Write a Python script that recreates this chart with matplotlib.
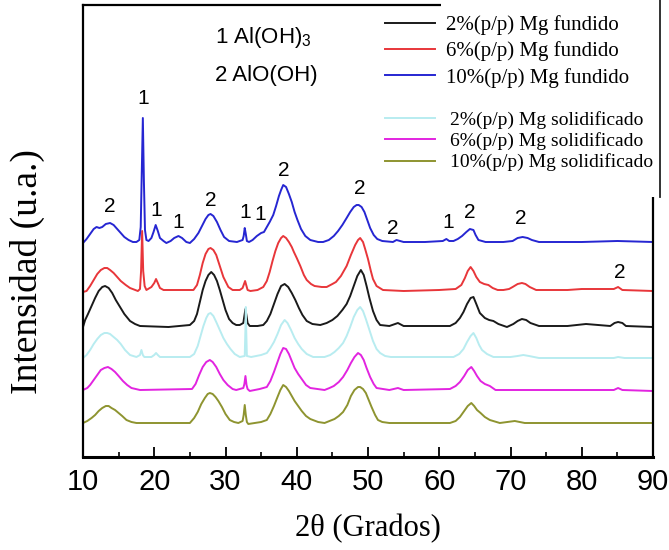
import matplotlib
matplotlib.use("Agg")
import matplotlib.pyplot as plt
from matplotlib.patches import Rectangle
from matplotlib.lines import Line2D

# ---------------- data ----------------
legend_labels = [
    "2%(p/p) Mg fundido",
    "6%(p/p) Mg fundido",
    "10%(p/p) Mg fundido",
    "2%(p/p) Mg solidificado",
    "6%(p/p) Mg solidificado",
    "10%(p/p) Mg solidificado",
]

# vertical stacking offset of each pattern (a.u.)
stack_offsets = [131, 166, 215, 99, 67, 34]

# (2theta, intensity above the pattern's own baseline)
pattern_black = [
    (10.0, -1), (10.3, 6), (10.7, 12), (11.2, 20), (11.7, 28), (12.2, 35), (12.7, 39), (13.1, 40),
    (13.6, 38), (14.1, 33), (14.6, 26), (15.2, 19), (15.8, 12), (16.6, 5), (17.3, 2), (18.0, 0),
    (22.0, -1), (25.0, 1), (25.6, 5), (26.0, 12), (26.4, 24), (26.8, 36), (27.2, 45), (27.6, 51),
    (28.0, 54), (28.4, 51), (28.8, 45), (29.2, 36), (29.6, 26), (30.0, 16), (30.5, 7), (31.0, 3),
    (31.5, 1), (32.0, 1), (32.5, 3), (32.8, 17), (33.1, 3), (33.4, 0), (34.5, 0), (35.3, 1),
    (35.8, 5), (36.3, 12), (36.8, 22), (37.3, 32), (37.8, 40), (38.3, 42), (38.8, 39), (39.3, 33),
    (39.8, 26), (40.3, 18), (40.8, 11), (41.4, 5), (42.2, 2), (43.3, 1), (44.2, 3), (45.0, 6),
    (45.7, 10), (46.4, 16), (47.0, 22), (47.5, 30), (48.0, 40), (48.5, 50), (49.0, 56), (49.4, 51),
    (49.8, 40), (50.2, 28), (50.7, 15), (51.2, 6), (51.7, 1), (53.0, 0), (54.2, 3), (55.0, 0),
    (61.5, 0), (62.3, 3), (62.9, 8), (63.4, 14), (63.9, 22), (64.4, 28), (64.8, 29), (65.2, 22),
    (65.7, 13), (66.4, 8), (67.0, 6), (67.6, 5), (68.3, 2), (69.5, -1), (70.4, 2), (71.0, 5),
    (71.6, 7), (72.2, 6), (72.8, 3), (74.0, 0), (78.0, 0), (80.6, 2), (84.0, 0), (84.6, 3),
    (85.1, 4), (85.7, 3), (86.2, 0), (90.0, -1),
]

pattern_red = [
    (10.0, -1), (10.5, 0), (11.0, 5), (11.5, 11), (12.0, 17), (12.5, 21), (13.0, 23), (13.4, 23),
    (13.8, 21), (14.3, 18), (14.8, 14), (15.3, 10), (16.0, 6), (16.6, 3), (17.7, 0), (18.0, 2),
    (18.15, 20), (18.3, 60), (18.45, 20), (18.65, 5), (18.9, 1), (19.6, 4), (20.0, 8), (20.25, 12),
    (20.5, 8), (20.8, 3), (21.3, 1), (25.5, 1), (26.0, 6), (26.4, 16), (26.8, 28), (27.2, 37),
    (27.6, 42), (27.9, 43), (28.3, 41), (28.7, 36), (29.2, 25), (29.7, 14), (30.4, 4), (31.0, 1),
    (32.0, 1), (32.4, 3), (32.75, 10), (33.1, 1), (33.5, 0), (34.5, 1), (35.3, 4), (35.8, 10),
    (36.2, 19), (36.6, 30), (37.0, 40), (37.4, 48), (37.8, 53), (38.1, 55), (38.5, 53), (38.9, 49),
    (39.3, 44), (39.6, 39), (40.0, 33), (40.5, 25), (41.0, 16), (41.4, 11), (42.0, 7), (42.5, 5),
    (43.5, 4), (44.2, 4), (45.0, 7), (45.5, 9), (46.2, 15), (47.0, 25), (47.6, 36), (48.2, 46),
    (48.6, 51), (48.9, 53), (49.3, 49), (49.6, 42), (50.0, 32), (50.4, 20), (50.7, 12), (51.2, 5),
    (52.1, 1), (55.0, 0), (60.0, 1), (62.3, 2), (63.1, 6), (63.6, 13), (64.0, 20), (64.4, 24),
    (64.8, 20), (65.2, 14), (65.7, 9), (66.3, 7), (66.9, 6), (67.5, 3), (68.2, 1), (69.0, 1),
    (69.8, 2), (70.3, 4), (71.0, 7), (71.6, 8), (72.1, 7), (72.7, 4), (73.6, 1), (78.0, 1),
    (80.0, 2), (84.5, 2), (85.1, 4), (85.7, 1), (90.0, 0),
]

pattern_blue = [
    (10.0, -1), (10.5, 3), (11.0, 8), (11.5, 13), (11.9, 15), (12.3, 14), (12.7, 15), (13.2, 18),
    (13.8, 19), (14.3, 17), (14.8, 13), (15.3, 9), (15.8, 5), (16.4, 2), (17.0, 0), (17.5, 0),
    (17.9, 2), (18.1, 15), (18.25, 70), (18.4, 124), (18.55, 60), (18.7, 12), (18.9, 2), (19.2, 1),
    (19.6, 4), (19.9, 10), (20.2, 17), (20.5, 11), (20.8, 4), (21.3, 1), (21.7, -1), (22.3, 1),
    (22.8, 4), (23.4, 6), (23.9, 4), (24.5, 0), (25.0, -1), (25.6, 3), (26.2, 9), (26.7, 16),
    (27.2, 23), (27.6, 27), (27.9, 28), (28.3, 26), (28.8, 20), (29.3, 12), (29.8, 5), (30.5, 1),
    (31.6, 0), (32.4, 2), (32.55, 6), (32.7, 14), (32.85, 8), (33.0, 1), (33.3, 0), (33.8, 2),
    (34.4, 6), (35.0, 9), (35.4, 10), (35.8, 15), (36.2, 20), (36.7, 27), (37.1, 36), (37.5, 46),
    (37.8, 52), (38.1, 57), (38.5, 55), (38.9, 48), (39.3, 40), (39.7, 30), (40.1, 22), (40.6, 13),
    (41.2, 6), (41.9, 2), (43.0, 0), (43.7, 0), (44.5, 2), (45.2, 6), (45.8, 11), (46.4, 17),
    (47.0, 24), (47.5, 30), (48.0, 35), (48.4, 37), (48.7, 37), (49.1, 35), (49.5, 30), (49.9, 22),
    (50.3, 14), (50.8, 7), (51.3, 3), (52.0, 1), (53.5, 0), (54.0, 2), (55.0, 0), (58.0, 0),
    (60.5, 1), (61.0, 3), (61.4, 1), (62.0, 1), (62.6, 3), (63.2, 6), (63.8, 10), (64.3, 13),
    (64.8, 12), (65.1, 7), (65.5, 2), (66.5, 0), (69.0, 0), (70.3, 1), (71.0, 4), (71.7, 5),
    (72.4, 4), (73.0, 2), (74.0, 0), (80.0, 0), (85.0, 1), (90.0, 0),
]

pattern_cyan = [
    (10.0, 0), (10.5, 3), (11.0, 8), (11.5, 14), (12.0, 19), (12.5, 23), (13.0, 25), (13.4, 25),
    (13.8, 24), (14.3, 21), (14.8, 18), (15.3, 14), (15.9, 8), (16.6, 3), (17.5, 1), (18.0, 3),
    (18.2, 8), (18.4, 3), (18.6, 1), (19.6, 1), (20.0, 3), (20.25, 5), (20.5, 3), (20.8, 1),
    (25.0, 1), (25.6, 4), (26.1, 12), (26.5, 22), (26.9, 32), (27.3, 40), (27.6, 44), (27.9, 45),
    (28.3, 42), (28.7, 36), (29.2, 28), (29.7, 20), (30.2, 14), (30.7, 9), (31.3, 4), (32.0, 1),
    (32.7, 2), (32.8, 30), (32.85, 51), (32.9, 30), (33.0, 2), (33.6, 1), (35.0, 3), (35.8, 5),
    (36.3, 10), (36.8, 16), (37.3, 24), (37.8, 33), (38.3, 38), (38.7, 35), (39.2, 28), (39.7, 20),
    (40.2, 14), (40.7, 9), (41.4, 4), (42.3, 1), (43.9, 1), (44.7, 3), (45.3, 6), (45.9, 10),
    (46.5, 15), (47.0, 22), (47.5, 31), (48.0, 41), (48.5, 48), (48.9, 51), (49.3, 47), (49.7, 39),
    (50.2, 28), (50.7, 17), (51.2, 9), (51.7, 5), (52.4, 2), (53.2, 1), (62.0, 1), (62.8, 4),
    (63.4, 9), (63.9, 16), (64.4, 22), (64.8, 25), (65.2, 20), (65.6, 13), (66.0, 8), (66.7, 4),
    (67.6, 1), (70.0, 1), (71.0, 2), (71.8, 3), (72.6, 2), (74.0, 0), (84.5, 0), (85.1, 1),
    (86.0, 0), (90.0, 0),
]

pattern_magenta = [
    (10.0, 0), (10.6, 2), (11.0, 5), (11.5, 10), (12.0, 15), (12.5, 20), (13.0, 22), (13.5, 23),
    (14.0, 21), (14.5, 18), (15.0, 14), (15.6, 9), (16.2, 5), (16.8, 2), (18.0, 0), (25.3, 1),
    (25.8, 6), (26.3, 15), (26.8, 23), (27.3, 28), (27.8, 30), (28.2, 28), (28.7, 23), (29.2, 16),
    (29.7, 10), (30.3, 5), (31.0, 1), (31.5, 0), (32.5, 2), (32.65, 6), (32.8, 14), (32.95, 5),
    (33.1, 1), (33.4, -1), (34.8, 1), (35.8, 3), (36.3, 9), (36.8, 18), (37.3, 28), (37.7, 36),
    (38.1, 42), (38.5, 41), (38.9, 36), (39.3, 29), (39.7, 22), (40.2, 16), (40.7, 11), (41.3, 5),
    (41.9, 2), (43.9, 0), (44.6, 2), (45.2, 4), (45.9, 8), (46.5, 13), (47.1, 20), (47.6, 27),
    (48.1, 33), (48.6, 37), (49.0, 35), (49.4, 30), (49.8, 22), (50.3, 13), (50.8, 6), (51.2, 2),
    (53.0, 0), (54.2, 2), (55.0, 0), (61.5, 1), (62.3, 4), (62.9, 8), (63.5, 14), (64.0, 20),
    (64.5, 23), (64.9, 19), (65.3, 14), (65.8, 9), (66.4, 6), (67.1, 4), (67.9, 0), (84.5, 0),
    (85.1, 2), (85.7, 0), (90.0, -1),
]

pattern_olive = [
    (10.0, 0), (10.6, 2), (11.2, 5), (11.7, 8), (12.2, 12), (12.7, 15), (13.2, 17), (13.6, 17),
    (14.0, 15), (14.5, 13), (15.0, 10), (15.5, 7), (16.1, 3), (16.8, 1), (17.5, 0), (25.0, 0),
    (25.6, 5), (26.1, 11), (26.6, 19), (27.1, 25), (27.5, 29), (27.8, 30), (28.2, 29), (28.6, 26),
    (29.0, 22), (29.5, 16), (30.0, 9), (30.6, 3), (31.2, 1), (31.8, 0), (32.4, 2), (32.55, 8),
    (32.7, 18), (32.85, 8), (33.0, 1), (33.2, -1), (35.0, 1), (35.8, 3), (36.3, 9), (36.8, 17),
    (37.3, 26), (37.7, 33), (38.1, 38), (38.5, 36), (38.9, 32), (39.3, 27), (39.7, 22), (40.2, 17),
    (40.7, 12), (41.3, 7), (41.9, 4), (43.0, 1), (43.9, 0), (44.6, 2), (45.3, 4), (45.9, 7),
    (46.5, 11), (47.1, 18), (47.6, 27), (48.1, 33), (48.6, 36), (48.9, 36), (49.3, 34), (49.7, 30),
    (50.1, 23), (50.5, 16), (51.0, 8), (51.4, 3), (52.0, 1), (53.0, 0), (61.5, 0), (62.3, 2),
    (62.9, 6), (63.5, 12), (64.0, 17), (64.5, 20), (64.9, 17), (65.3, 13), (65.8, 10), (66.4, 6),
    (67.1, 3), (68.5, 0), (70.6, 2), (72.0, 0), (90.0, 0),
]

peak_label_text = ["2", "1", "1", "1", "2", "1", "1", "2", "2", "2", "1", "2", "2", "2"]
peak_label_tt = [13.7, 18.5, 20.3, 23.4, 28.0, 32.7, 34.8, 38.2, 48.9, 53.5, 61.2, 64.3, 71.4, 85.3]
peak_label_h = [250, 359, 246, 235, 256, 244, 242, 287, 268, 228, 234, 244, 239, 184]

phase_text = ["1 Al(OH)$\\mathregular{_3}$", "2 AlO(OH)"]
phase_h = [419, 382]

x_ticks = [10, 20, 30, 40, 50, 60, 70, 80, 90]
x_minor_ticks = [15, 25, 35, 45, 55, 65, 75, 85]

# ---------------- figure ----------------
colors = ["#1a1a1a", "#e8363a", "#2626d2", "#b8ecf0", "#e224e0", "#8e9430"]
patterns = [pattern_black, pattern_red, pattern_blue, pattern_cyan, pattern_magenta, pattern_olive]

W, H = 669, 550
fig = plt.figure(figsize=(W / 100, H / 100), dpi=100)
ax = fig.add_axes([83 / W, 93 / H, 570 / W, 452 / H])
ax.set_xlim(10, 90)
ax.set_ylim(0, 452)

handles = []
for lab, pat, off, c in zip(legend_labels, patterns, stack_offsets, colors):
    tt = [p[0] for p in pat]
    inten = [off + p[1] for p in pat]
    ln, = ax.plot(tt, inten, color=c, lw=1.4, label=lab, solid_joinstyle="round")
    handles.append(ln)

for t, x, h in zip(peak_label_text, peak_label_tt, peak_label_h):
    ax.text(x, h, t, ha="center", va="center", fontsize=15, family="Liberation Sans")

for t, h in zip(phase_text, phase_h):
    ax.text(28.5, h, t, ha="left", va="center", fontsize=16, family="Liberation Sans")

# axes styling
ax.set_yticks([])
ax.set_xticks(x_ticks)
ax.set_xticks(x_minor_ticks, minor=True)
ax.tick_params(axis="x", which="major", direction="in", length=7, width=1.3, pad=8,
               labelsize=21)
ax.tick_params(axis="x", which="minor", direction="in", length=3.5, width=1.2)
for lbl in ax.get_xticklabels():
    lbl.set_family("Liberation Sans")
for s in ax.spines.values():
    s.set_linewidth(1.6)
ax.spines["bottom"].set_linewidth(2.2)

ax.set_xlabel("2θ (Grados)", family="Liberation Serif", fontsize=22)
ax.xaxis.set_label_coords(0.5, -0.125)
ax.set_ylabel("Intensidad (u.a.)", family="Liberation Serif", fontsize=27)
ax.yaxis.set_label_coords(-0.067, 0.41)

# white box behind legend (covers the frame as in the reference)
ax.add_patch(Rectangle((441 / W, 1 - 197 / H), 221 / W, 197 / H, transform=fig.transFigure,
                       facecolor="white", edgecolor="none", zorder=3, clip_on=False))
fig.add_artist(Line2D([660 / W, 660 / W], [1 - 197 / H, 1.0], color="#222222", lw=1.3))

leg1 = ax.legend(handles=handles[:3], loc="upper left", bbox_to_anchor=(385 / W, 1 - 15 / H),
                 bbox_transform=fig.transFigure, frameon=False, borderpad=0, borderaxespad=0,
                 handlelength=2.4, handletextpad=0.55, labelspacing=0.31,
                 prop={"family": "Liberation Serif", "size": 15})
leg1.set_zorder(5)
ax.add_artist(leg1)
leg2 = ax.legend(handles=handles[3:], loc="upper left", bbox_to_anchor=(385 / W, 1 - 111 / H),
                 bbox_transform=fig.transFigure, frameon=False, borderpad=0, borderaxespad=0,
                 handlelength=2.55, handletextpad=0.8, labelspacing=0.17,
                 prop={"family": "Liberation Serif", "size": 14})
leg2.set_zorder(5)

fig.savefig("out.png", dpi=100)
